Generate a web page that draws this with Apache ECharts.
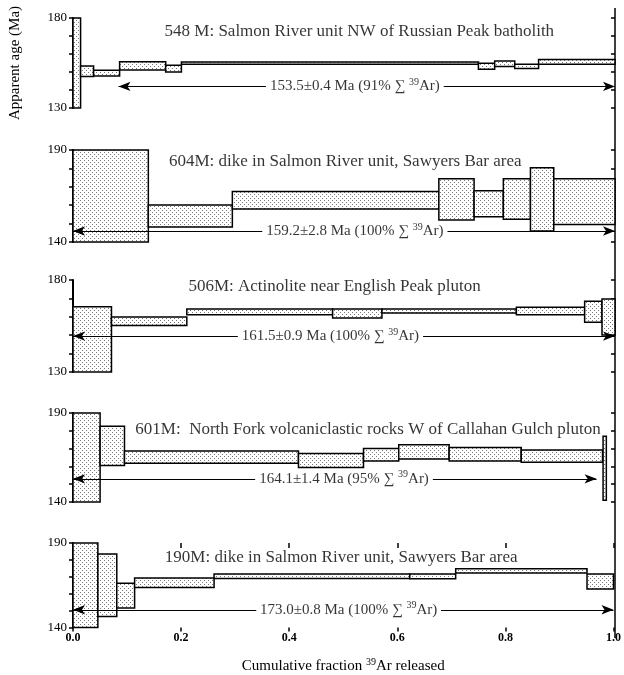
<!DOCTYPE html>
<html>
<head>
<meta charset="utf-8">
<script src="https://cdn.jsdelivr.net/npm/echarts@6/dist/echarts.min.js"></script>
<style>
html, body { margin: 0; background: #fff; }
#chart { width: 624px; height: 675px; }
</style>
</head>
<body>
<div id="chart"></div>
<script>
// heating steps: [start fraction, end fraction, age low, age high] (Ma)
const steps548 = [
    [0, 0.014, 130, 180],
    [0.014, 0.038, 147.5, 153.3],
    [0.038, 0.086, 147.8, 151.0],
    [0.086, 0.171, 151.1, 155.7],
    [0.171, 0.2, 150.0, 153.7],
    [0.2, 0.748, 154.3, 155.6],
    [0.748, 0.778, 151.5, 154.8],
    [0.778, 0.815, 153.0, 156.1],
    [0.815, 0.859, 151.9, 154.3],
    [0.859, 1.0, 154.3, 157.0]
];
const steps604 = [
    [0, 0.139, 140, 190],
    [0.139, 0.294, 148.2, 160.1],
    [0.294, 0.675, 158.0, 167.5],
    [0.675, 0.74, 151.9, 174.4],
    [0.74, 0.794, 153.7, 167.8],
    [0.794, 0.844, 152.3, 174.4],
    [0.844, 0.887, 146.0, 180.3],
    [0.887, 1.0, 149.5, 174.4]
];
const steps506 = [
    [0, 0.071, 130, 165.5],
    [0.071, 0.21, 155.3, 159.9],
    [0.21, 0.479, 161.1, 164.2],
    [0.479, 0.57, 159.3, 164.2],
    [0.57, 0.818, 162.1, 164.2],
    [0.818, 0.944, 161.1, 165.2],
    [0.944, 0.976, 157.1, 168.5],
    [0.976, 1.0, 150.1, 169.7]
];
const steps601 = [
    [0, 0.05, 140, 190],
    [0.05, 0.095, 160.5, 182.5],
    [0.095, 0.416, 161.7, 168.7],
    [0.416, 0.536, 159.4, 167.3],
    [0.536, 0.601, 163.1, 170.0],
    [0.601, 0.694, 164.1, 172.2],
    [0.694, 0.827, 163.1, 170.6],
    [0.827, 0.977, 162.3, 169.2],
    [0.978, 0.984, 141, 177]
];
const steps190 = [
    [0, 0.046, 140, 190],
    [0.046, 0.081, 146.5, 183.5],
    [0.081, 0.114, 151.6, 166.2],
    [0.114, 0.261, 163.6, 169.3],
    [0.261, 0.623, 169.0, 171.6],
    [0.623, 0.708, 168.8, 171.6],
    [0.708, 0.951, 172.2, 174.8],
    [0.951, 1.0, 162.8, 171.6]
];

const samples = [
    '548 M: Salmon River unit NW of Russian Peak batholith',
    '604M: dike in Salmon River unit, Sawyers Bar area',
    '506M: Actinolite near English Peak pluton',
    '601M:  North Fork volcaniclastic rocks W of Callahan Gulch pluton',
    '190M: dike in Salmon River unit, Sawyers Bar area'
];
const plateauAge = ['153.5±0.4', '159.2±2.8', '161.5±0.9', '164.1±1.4', '173.0±0.8'];
const plateauPct = [91, 100, 100, 95, 100];
const yMin = [130, 140, 130, 140, 140];
const yMax = [180, 190, 180, 190, 190];

// plateau arrows: from, to (fraction), drawn at age
const arrowFrom = [0.084, 0, 0, 0, 0];
const arrowTo = [1, 1, 1, 0.966, 1];
const arrowAge = [142, 146, 149.5, 153, 150.5];
const labelAt = [0.52, 0.52, 0.475, 0.5, 0.51];
// sample name anchor: [fraction, age]
const titleAt = [[0.168, 172.4], [0.176, 183.6], [0.212, 176.5], [0.114, 180.5], [0.169, 181.5]];

const panels = [steps548, steps604, steps506, steps601, steps190];
const tops = [18, 150, 280, 413, 543];
const heights = [90, 92, 92, 89, 90];
const plotWidth = 542;
const font = 'Liberation Serif';

function dotPattern() {
    const c = document.createElement('canvas');
    c.width = 4;
    c.height = 4;
    const g = c.getContext('2d');
    g.fillStyle = '#fff';
    g.fillRect(0, 0, 4, 4);
    g.fillStyle = '#777';
    g.fillRect(0, 0, 1, 1);
    g.fillRect(2, 2, 1, 1);
    return {image: c, repeat: 'repeat'};
}

// width of a plateau label, used to leave a gap in its arrow
const measure = document.createElement('canvas').getContext('2d');
function labelWidth(i) {
    measure.font = '15px "' + font + '"';
    let w = measure.measureText(plateauAge[i] + ' Ma (' + plateauPct[i] + '% \u2211 ').width;
    w += measure.measureText('Ar)').width;
    measure.font = '10px "' + font + '"';
    w += measure.measureText('39').width;
    return w;
}

const dots = dotPattern();
const chart = echarts.init(document.getElementById('chart'));

const labelRich = {
    a: {fontFamily: font, fontSize: 15, color: '#000', lineHeight: 18},
    s: {fontFamily: font, fontSize: 10, color: '#000', verticalAlign: 'top', lineHeight: 18}
};

const grid = [], xAxis = [], yAxis = [], series = [];

panels.forEach((steps, i) => {
    const last = i === panels.length - 1;
    grid.push({left: 73, width: plotWidth, top: tops[i], height: heights[i]});

    xAxis.push({
        gridIndex: i, type: 'value', min: 0, max: 1, interval: 0.2,
        show: last,
        axisLine: {show: false},
        splitLine: {show: false},
        axisTick: {show: true, length: 4, lineStyle: {color: '#000', width: 1.5}},
        axisLabel: {
            margin: 4, color: '#000', fontFamily: font, fontSize: 12, fontWeight: 'bold',
            formatter: v => v.toFixed(1)
        },
        name: last ? '{a|Cumulative fraction }{s|39}{a|Ar released}' : '',
        nameLocation: 'middle',
        nameGap: 30,
        nameTextStyle: {rich: labelRich}
    });

    const lo = yMin[i], hi = yMax[i];
    yAxis.push({
        gridIndex: i, type: 'value', min: lo, max: hi, interval: 10,
        axisLine: {show: true, lineStyle: {color: '#000', width: 2}},
        axisTick: {show: true, length: 4, lineStyle: {color: '#000', width: 1.5}},
        splitLine: {show: false},
        axisLabel: {
            margin: 6, color: '#000', fontFamily: font, fontSize: 13,
            formatter: v => (v === lo || v === hi) ? String(v) : ''
        },
        name: i === 0 ? 'Apparent age (Ma)' : '',
        nameLocation: 'middle',
        nameRotate: 90,
        nameGap: 50,
        nameTextStyle: {fontFamily: font, fontSize: 15, color: '#000'}
    });
    // same axis again, ticks on the inside so they cross the line
    yAxis.push({
        gridIndex: i, type: 'value', min: lo, max: hi, interval: 10,
        axisLine: {show: false},
        axisTick: {show: true, inside: true, length: 4, lineStyle: {color: '#000', width: 1.5}},
        axisLabel: {show: false},
        splitLine: {show: false}
    });

    // arrow in two pieces, broken where the label sits
    const half = (labelWidth(i) / 2 + 4) / plotWidth;
    const age = arrowAge[i];

    series.push({
        type: 'custom',
        xAxisIndex: i,
        yAxisIndex: i * 2,
        silent: true,
        data: steps,
        encode: {x: [0, 1], y: [2, 3]},
        renderItem: (params, api) => {
            const a = api.coord([api.value(0), api.value(3)]);
            const b = api.coord([api.value(1), api.value(2)]);
            return {
                type: 'rect',
                shape: {x: a[0], y: a[1], width: b[0] - a[0], height: b[1] - a[1]},
                style: {fill: dots, stroke: '#000', lineWidth: 1.5}
            };
        },
        markLine: {
            silent: true,
            symbolSize: [7, 12],
            label: {show: false},
            lineStyle: {color: '#000', width: 1, type: 'solid'},
            data: [
                [{coord: [arrowFrom[i], age], symbol: 'arrow'}, {coord: [labelAt[i] - half, age], symbol: 'none'}],
                [{coord: [labelAt[i] + half, age], symbol: 'none'}, {coord: [arrowTo[i], age], symbol: 'arrow'}]
            ]
        }
    });

    series.push({
        type: 'scatter',
        xAxisIndex: i,
        yAxisIndex: i * 2,
        silent: true,
        z: 20,
        symbolSize: 1,
        itemStyle: {color: 'rgba(0,0,0,0)'},
        data: [
            {
                value: [labelAt[i], age],
                label: {
                    show: true, position: 'inside',
                    formatter: '{a|' + plateauAge[i] + ' Ma (' + plateauPct[i] + '% \u2211 }{s|39}{a|Ar)}',
                    rich: labelRich
                }
            },
            {
                value: titleAt[i],
                label: {
                    show: true, position: 'right', distance: 0,
                    fontFamily: font, fontSize: 17, color: '#000',
                    formatter: samples[i]
                }
            }
        ]
    });
});

// the bottom axis again, with inside ticks
xAxis.push({
    gridIndex: 4, type: 'value', min: 0, max: 1, interval: 0.2,
    axisLine: {show: false},
    splitLine: {show: false},
    axisLabel: {show: false},
    axisTick: {show: true, inside: true, length: 5, lineStyle: {color: '#000', width: 1.5}}
});

chart.setOption({
    animation: false,
    backgroundColor: '#fff',
    grid: grid,
    xAxis: xAxis,
    yAxis: yAxis,
    series: series
});

// right border at fraction 1.0, running through all panels
const xr = chart.convertToPixel({xAxisIndex: 0}, 1);
chart.setOption({
    graphic: [{
        type: 'line',
        silent: true,
        shape: {x1: xr, y1: 8, x2: xr, y2: 638},
        style: {stroke: '#000', lineWidth: 1.5}
    }]
});
</script>
</body>
</html>
